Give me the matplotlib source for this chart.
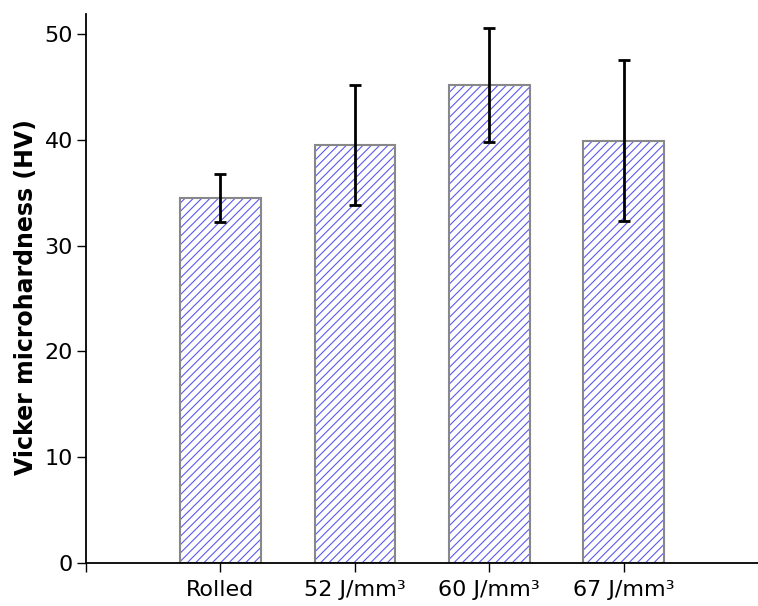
import matplotlib
matplotlib.use("Agg")
import matplotlib.pyplot as plt

categories = ["Rolled", "52 J/mm³", "60 J/mm³", "67 J/mm³"]
hardness = [34.5, 39.5, 45.2, 39.9]
errors = [2.3, 5.7, 5.4, 7.6]
y_ticks = [0, 10, 20, 30, 40, 50]

plt.rcParams['font.family'] = ['DejaVu Sans']
plt.rcParams['hatch.linewidth'] = 0.8

fig = plt.figure(figsize=(7.58, 6.06), dpi=100)
ax = fig.add_axes([0.1135, 0.071, 0.8865, 0.906])

x = list(range(len(categories)))
ax.bar(x, hardness, width=0.6, color='white', edgecolor='#5a5af0', hatch='////', linewidth=0)
ax.bar(x, hardness, width=0.6, fill=False, edgecolor='#888888', linewidth=1.5)
ax.errorbar(x, hardness, yerr=errors, fmt='none', ecolor='black', elinewidth=2,
            capsize=4, capthick=2)

ax.set_xlim(-1, 4)
ax.set_ylim(0, 51.9)
ax.set_xticks([-1] + x)
ax.set_xticklabels([''] + categories)
ax.set_yticks(y_ticks)
ax.tick_params(axis='both', labelsize=16, length=6.5, width=1, direction='out', colors='black')
ax.tick_params(axis='y', pad=3)
ax.tick_params(axis='x', pad=6)
for s in ['top', 'right']:
    ax.spines[s].set_visible(False)
for s in ['left', 'bottom']:
    ax.spines[s].set_linewidth(1.3)

ax.set_ylabel('Vicker microhardness (HV)', fontsize=17, fontweight='bold')
ax.yaxis.set_label_coords(-0.071, 0.485)

fig.savefig('out.png', dpi=100)
